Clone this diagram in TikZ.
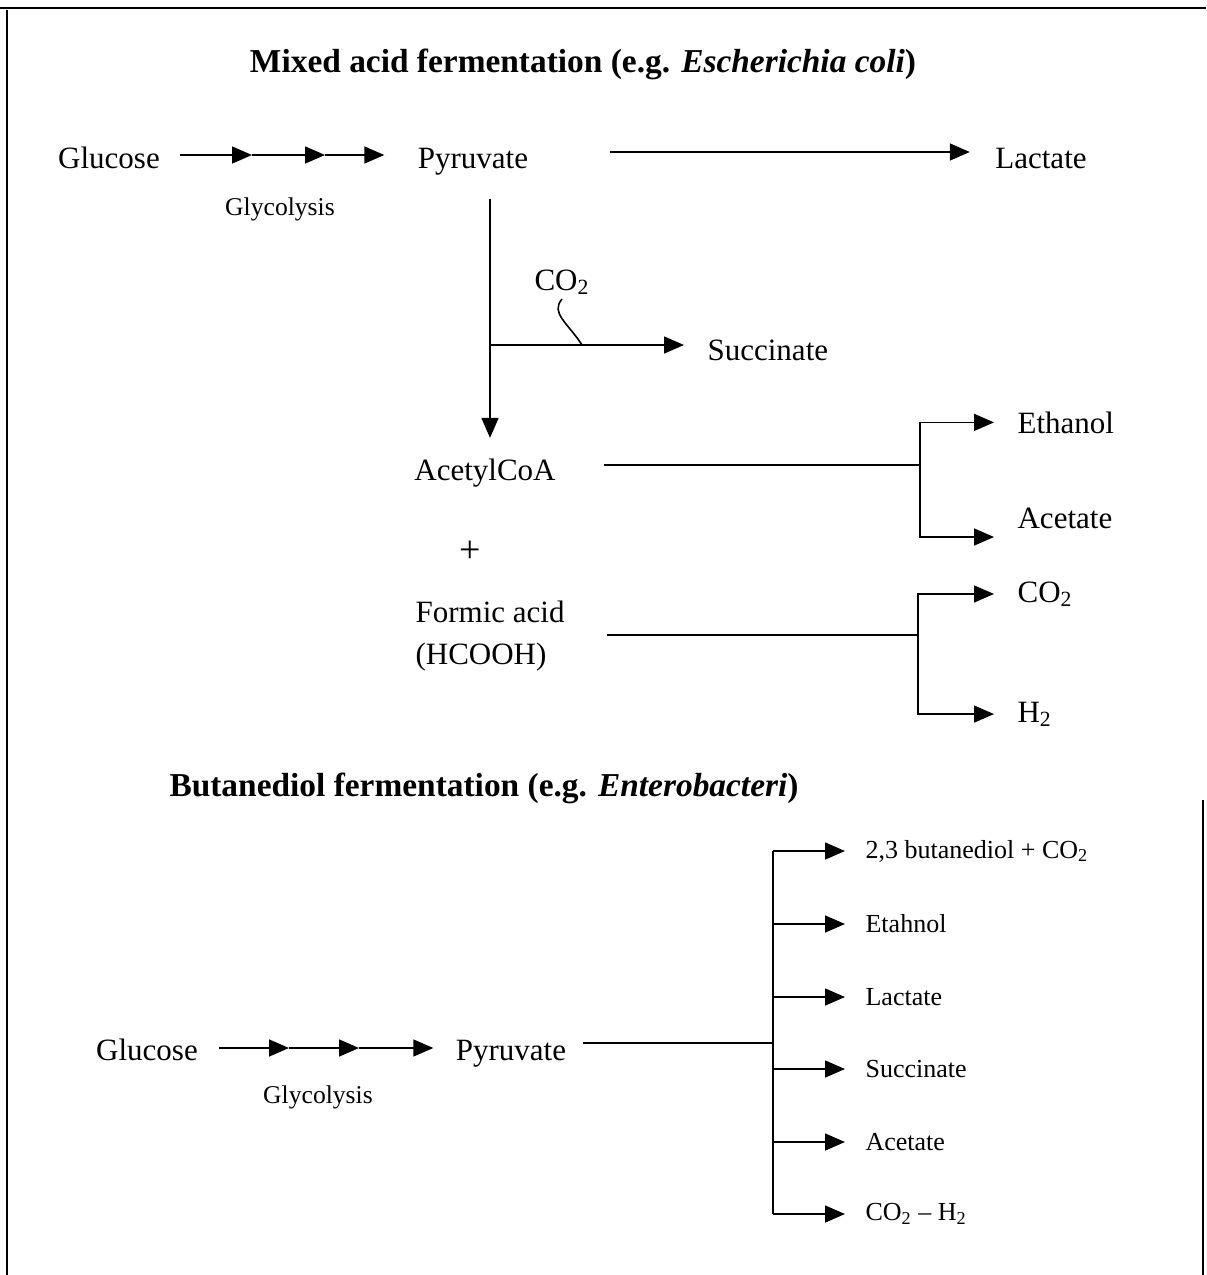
\documentclass[tikz,border=0pt]{standalone}
\usepackage{fontspec}
\setmainfont{Liberation Serif}
\usepackage{tikz}
\usetikzlibrary{arrows.meta,positioning}

\begin{document}
\begin{tikzpicture}[x=0.5pt,y=-0.5pt,>={Triangle[length=10pt,width=8.5pt]},
                    semithick]
  \tikzstyle{every node}=[font=\fontsize{15.5}{21}\selectfont,inner sep=2pt]
  \tikzstyle{heading}=[font=\fontsize{16.7}{20}\selectfont\bfseries,anchor=base]
  \tikzstyle{label}=[anchor=base]
  \tikzstyle{small}=[font=\fontsize{12.8}{15}\selectfont,anchor=base]
  \tikzstyle{product}=[font=\fontsize{13}{15}\selectfont,anchor=west]
  \tikzstyle{flow}=[->,line width=0.8pt]
  \tikzstyle{link}=[line width=0.8pt]

  \useasboundingbox (0,0) rectangle (1206,1275);
  % frame
  \draw[line width=1.4pt] (0,8) -- (1206,8);
  \draw[line width=0.6pt] (7,10) -- (7,1275);
  \draw[line width=0.6pt] (1203,800) -- (1203,1275);

  % mixed acid fermentation
  \node[heading] (mixtitle) at (583,72) {Mixed acid fermentation (e.g. \textit{Escherichia coli})};

  \node[label] (glu1) at (109,168) {Glucose};
  \node[label] (pyr1) at (473,168) {Pyruvate};
  \node[label] (lac1) at (1041,168) {Lactate};
  \node[small] (gly1) at (280,215) {Glycolysis};
  \node[label] (co2a) at (562,290) {CO\textsubscript{2}};
  \node[label,anchor=base west] (suc1) at (703,360) {Succinate};
  \node[label] (acoa) at (485,480) {AcetylCoA};
  \node[label,font=\fontsize{19}{21}\selectfont] (plus) at (470,562) {+};
  \node[label,anchor=west,align=left] (form) at (411,636) {Formic acid\\(HCOOH)};
  \node[label,anchor=base west] (eth1) at (1013,433) {Ethanol};
  \node[label,anchor=base west] (ace1) at (1013,528) {Acetate};
  \node[label,anchor=base west] (co2b) at (1013,602) {CO\textsubscript{2}};
  \node[label,anchor=base west] (htwo) at (1013,722) {H\textsubscript{2}};

  \coordinate (g1) at (252,155);
  \coordinate (g2) at (325,155);
  \coordinate (lc) at (610,152);
  \coordinate (br) at (490,345);
  \coordinate (sq) at (582,345);
  \coordinate (j1) at (920,465);
  \coordinate (k1) at (920,537);
  \coordinate (j2) at (918,635);

  \draw[flow,shorten <=8pt] (glu1.east |- g1) -- (g1);
  \draw[flow] (g1) -- (g2);
  \draw[flow,shorten >=14.5pt] (g2) -- (pyr1.west |- g2);
  \draw[flow,shorten >=10.5pt] (lc) -- (lac1.west |- lc);
  \draw[flow,shorten <=10pt,shorten >=8pt] (pyr1.south -| br) -- (acoa.north -| br);
  \draw[flow,shorten >=9.5pt] (br) -- (br -| suc1.west);
  \draw[link] (co2a.south) .. controls +(-12,14) and +(-14,-22) .. (sq);

  \draw[link,shorten <=22pt] (acoa.east |- j1) -- (j1);
  \draw[flow,shorten >=9.5pt] (j1) |- (eth1.west);
  \draw[flow,shorten >=9.5pt] (j1) -- (k1) -- (k1 -| ace1.west);
  \draw[link,shorten <=19pt] (form.east |- j2) -- (j2);
  \draw[flow,shorten >=9.5pt] (j2) |- (co2b.west);
  \draw[flow,shorten >=9.5pt] (j2) |- (htwo.west);

  % butanediol fermentation
  \node[heading] (bdtitle) at (484,796) {Butanediol fermentation (e.g. \textit{Enterobacteri})};

  \node[label] (glu2) at (147,1060) {Glucose};
  \node[label] (pyr2) at (511,1060) {Pyruvate};
  \node[small] (gly2) at (318,1103) {Glycolysis};

  \node[product] (bd1) at (861,851) {2,3 butanediol + CO\textsubscript{2}};
  \node[product] (bd2) at (861,924) {Etahnol};
  \node[product] (bd3) at (861,997) {Lactate};
  \node[product] (bd4) at (861,1069) {Succinate};
  \node[product] (bd5) at (861,1142) {Acetate};
  \node[product] (bd6) at (861,1214) {CO\textsubscript{2} -- H\textsubscript{2}};

  \coordinate (g3) at (289,1048);
  \coordinate (g4) at (359,1048);
  \coordinate (j3) at (773,1043);
  \coordinate (s1) at (773,851);
  \coordinate (s6) at (773,1214);

  \draw[flow,shorten <=8.5pt] (glu2.east |- g3) -- (g3);
  \draw[flow] (g3) -- (g4);
  \draw[flow,shorten >=9pt] (g4) -- (pyr2.west |- g4);
  \draw[link,shorten <=6pt] (pyr2.east |- j3) -- (j3);
  \draw[link] (s1) -- (s6);
  \draw[flow,shorten >=8pt] (s1) -- (bd1.west);
  \draw[flow,shorten >=8pt] (j3) |- (bd2.west);
  \draw[flow,shorten >=8pt] (j3) |- (bd3.west);
  \draw[flow,shorten >=8pt] (j3) |- (bd4.west);
  \draw[flow,shorten >=8pt] (j3) |- (bd5.west);
  \draw[flow,shorten >=8pt] (s6) -- (bd6.west);
\end{tikzpicture}
\end{document}
